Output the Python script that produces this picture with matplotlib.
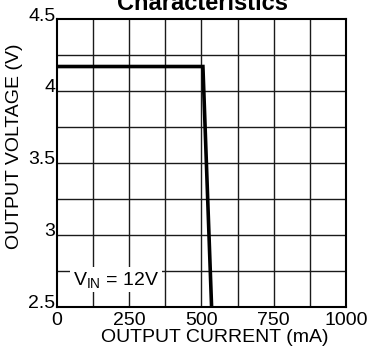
import matplotlib
matplotlib.use("Agg")
import matplotlib.pyplot as plt
import matplotlib.transforms as mtransforms
import numpy as np

plt.rcParams['font.family'] = ['Liberation Sans', 'DejaVu Sans']
plt.rcParams['mathtext.default'] = 'regular'

# data
current_ma = [0, 505, 535]
voltage_v = [4.17, 4.17, 2.5]
x_ticks = [0, 250, 500, 750, 1000]
y_ticks = [2.5, 3, 3.5, 4, 4.5]
x_tick_labels = ['0', '250', '500', '750', '1000']
y_tick_labels = ['2.5', '3', '3.5', '4', '4.5']

fig = plt.figure(figsize=(3.70, 3.52), dpi=100)
ax = fig.add_axes([0.154, 0.128, 0.781, 0.818])

# grid every 125 mA / 0.25 V
for xv in np.arange(125, 1000, 125):
    ax.axvline(xv, color='#1a1a1a', lw=1.0, zorder=1)
for yv in np.arange(2.75, 4.5, 0.25):
    ax.axhline(yv, color='#1a1a1a', lw=1.0, zorder=1)

ax.plot(current_ma, voltage_v, color='black', lw=2.6, zorder=3,
        solid_joinstyle='miter')

ax.set_xlim(0, 1000)
ax.set_ylim(2.5, 4.5)
ax.set_xticks(x_ticks)
ax.set_xticklabels(x_tick_labels)
ax.set_yticks(y_ticks)
ax.set_yticklabels(y_tick_labels)
ax.tick_params(length=0, labelsize=14)
ax.tick_params(axis='x', pad=4)
ax.tick_params(axis='y', pad=1)
up = mtransforms.ScaledTranslation(0, 3 / 100, fig.dpi_scale_trans)
for lbl in ax.get_yticklabels():
    lbl.set_verticalalignment('center')
    lbl.set_transform(lbl.get_transform() + up)
for sp in ax.spines.values():
    sp.set_linewidth(1.5)

ax.text(55, 2.69, 'V$_{IN}$ = 12V', fontsize=14, ha='left', va='center',
        zorder=4, bbox=dict(facecolor='white', edgecolor='none', pad=2))

fig.text(0.58, 0.04, 'OUTPUT CURRENT (mA)', fontsize=14, ha='center', va='center')
fig.text(0.04, 0.585, 'OUTPUT VOLTAGE (V)', fontsize=14, ha='center',
         va='center', rotation=90)
fig.text(0.547, 0.972, 'Characteristics', fontsize=17, fontweight='bold',
         ha='center', va='baseline')

fig.savefig('out.png', dpi=100)
